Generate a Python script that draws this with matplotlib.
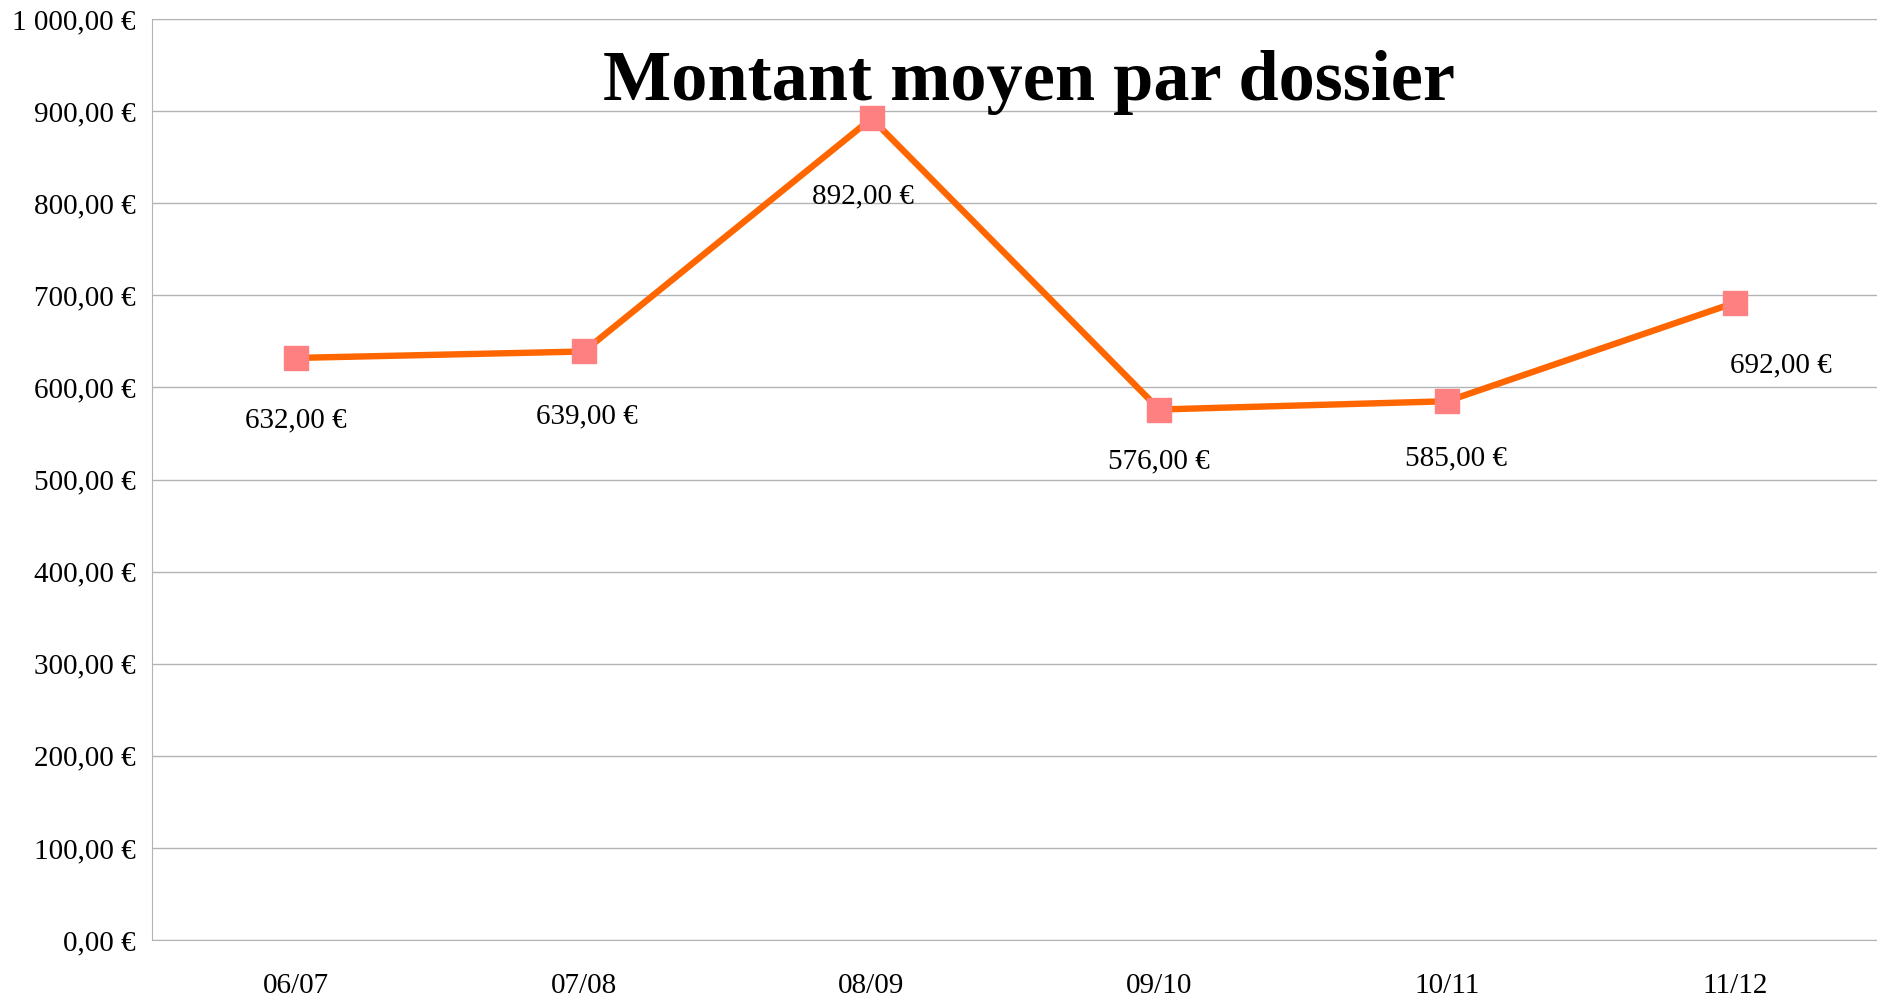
import matplotlib
matplotlib.use("Agg")
import matplotlib.pyplot as plt
from matplotlib.ticker import FuncFormatter

categories = ["06/07", "07/08", "08/09", "09/10", "10/11", "11/12"]
values = [632, 639, 892, 576, 585, 692]
title = "Montant moyen par dossier"
# label offsets in points (layout)
label_offsets = [(0, -45), (2, -47), (-6, -56), (0, -37), (6, -41), (33, -45)]

plt.rcParams['font.family'] = ['Liberation Serif', 'DejaVu Serif']

fig = plt.figure(figsize=(18.77, 10.06), dpi=100)
ax = fig.add_axes([0.081, 0.0656, 0.92, 0.9155])

def fmt(v):
    s = f"{v:,.2f}".replace(",", " ").replace(".", ",")
    return s + " €"

x = list(range(len(categories)))
ax.plot(x, values, color="#FF6600", lw=4.6, marker="s", markersize=17,
        markerfacecolor="#FF8080", markeredgecolor="#FF8080", zorder=3)

for xi, v, off in zip(x, values, label_offsets):
    ax.annotate(fmt(v), (xi, v), xytext=off, textcoords="offset points",
                ha="center", va="center", fontsize=21, color="black")

ax.set_xlim(-0.5, len(categories) - 0.5)
ax.set_ylim(0, 1000)
ax.set_yticks(range(0, 1001, 100))
ax.yaxis.set_major_formatter(FuncFormatter(lambda v, p: fmt(v)))
ax.set_xticks(x)
ax.set_xticklabels(categories)
ax.tick_params(axis="both", length=0, labelsize=21)
ax.tick_params(axis="x", pad=24)
ax.tick_params(axis="y", pad=12)
ax.grid(axis="y", color="#B3B3B3", lw=1)
ax.set_axisbelow(True)
for s in ["left", "bottom", "top"]:
    ax.spines[s].set_color("#B3B3B3")
ax.spines["right"].set_visible(False)

fig.text(0.548, 0.918, title, ha="center", va="center", fontsize=52,
         fontweight="bold")

fig.savefig("out.png", dpi=100)
